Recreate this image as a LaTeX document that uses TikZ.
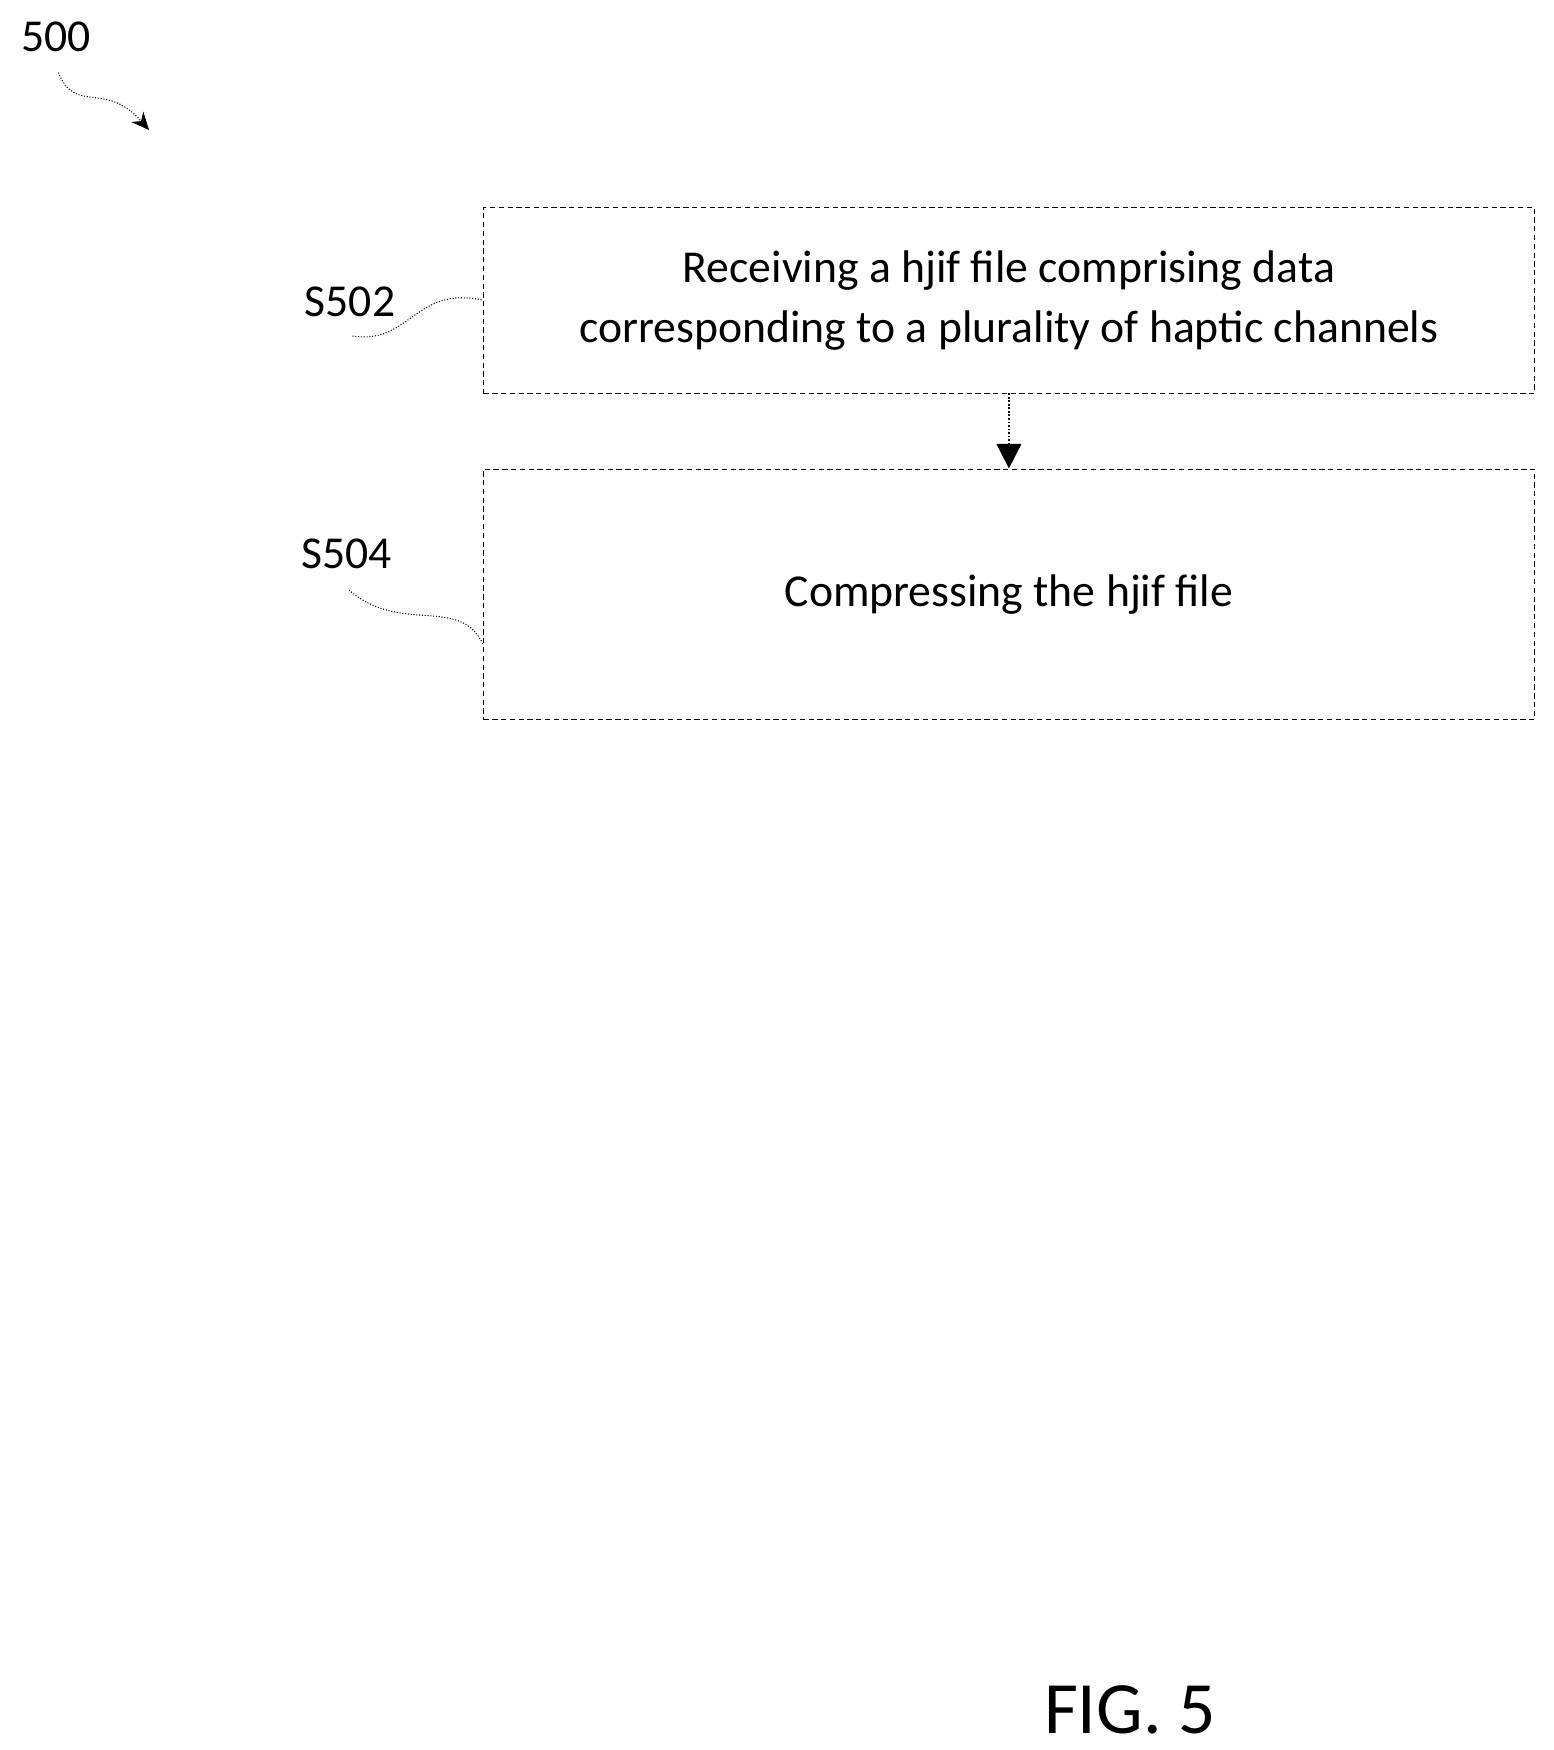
\documentclass[tikz,border=0pt]{standalone}
\usepackage{fontspec}
\setmainfont{Carlito}
\usetikzlibrary{positioning,arrows.meta}

\begin{document}
\begin{tikzpicture}[
  stepbox/.style={draw,densely dashed,line width=0.5pt,minimum width=21.02cm,align=center,font=\fontsize{26}{34}\selectfont},
  tag/.style={font=\fontsize{26}{32}\selectfont},
  lead/.style={densely dotted,line width=0.6pt}
  ]
\useasboundingbox (0,0) rectangle (31.08,-35);
\node[stepbox,minimum height=3.71cm,anchor=north west] (S502) at (9.66,-4.14)
  {Receiving a hjif file comprising data\\corresponding to a plurality of haptic channels};
\node[stepbox,minimum height=5.01cm,anchor=north west] (S504) at (9.66,-9.37)
  {Compressing the hjif file};
\node[tag] (n500) at (1.12,-0.74) {500};
\node[tag] (t502) at (7.0,-6.04) {S502};
\node[tag] (t504) at (6.93,-11.07) {S504};
\node[font=\fontsize{42}{48}\selectfont] (fig) at (22.6,-34.2) {FIG. 5};
\coordinate (a500) at (2.98,-2.6);
% leaders
\draw[lead,-{Stealth[length=10pt,width=9pt]}] (1.17,-1.45) .. controls (1.5,-2.3) and (2.1,-1.6) .. (a500);
\draw[lead] (7.05,-6.72) .. controls (8.2,-6.9) and (8.3,-5.7) .. (S502.west);
\draw[lead] (6.98,-11.8) .. controls (8.0,-12.7) and (9.2,-11.9) .. ([yshift=-1cm]S504.west);
\draw[densely dotted,line width=1pt,-{Triangle[length=14pt,width=14pt]}] (S502) -- (S504);
\end{tikzpicture}
\end{document}
